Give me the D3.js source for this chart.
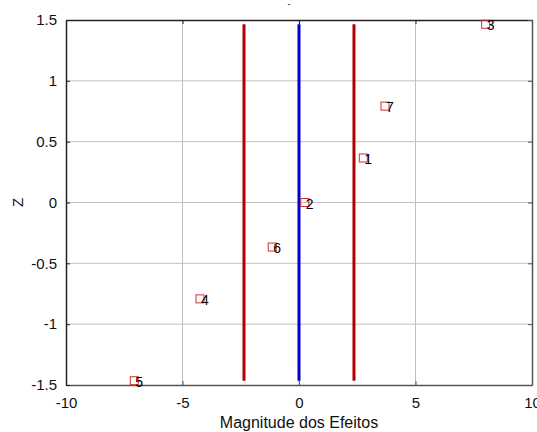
<!DOCTYPE html>
<html>
<head>
<meta charset="utf-8">
<script src="https://cdn.jsdelivr.net/npm/d3@7/dist/d3.min.js"></script>
<style>
  html, body { margin: 0; padding: 0; background: #fff; }
  svg { display: block; font-family: "Liberation Sans", Arial, sans-serif; }
</style>
</head>
<body>
<svg id="chart" width="537" height="432"></svg>
<script>
// Effect estimates and their normal scores (Z)
const effectLabels = ["1", "2", "3", "4", "5", "6", "7"];
const effectValues = [2.76, 0.25, 8.01, -4.25, -7.07, -1.15, 3.69];
const zScores = [0.366, 0, 1.465, -0.792, -1.465, -0.366, 0.792];

// Reference lines: centre (blue) and significance limits (red)
const centreLine = 0;
const limitLines = [-2.36, 2.36];
const lineSpan = [-1.465, 1.465];

const xTicks = [-10, -5, 0, 5, 10];
const yTicks = [-1.5, -1, -0.5, 0, 0.5, 1, 1.5];

const svg = d3.select("#chart");
const plotL = 66, plotR = 532, plotT = 20, plotB = 385;

const x = d3.scaleLinear().domain([-10, 10]).range([plotL, plotR]);
const y = d3.scaleLinear().domain([-1.5, 1.5]).range([plotB, plotT]);

// grid
const grid = svg.append("g").attr("stroke", "#c0c0c0").attr("stroke-width", 1);
grid.selectAll(".gx").data(xTicks.slice(1, -1)).join("line")
  .attr("x1", d => x(d)).attr("x2", d => x(d)).attr("y1", plotT).attr("y2", plotB);
grid.selectAll(".gy").data(yTicks.slice(1, -1)).join("line")
  .attr("y1", d => y(d)).attr("y2", d => y(d)).attr("x1", plotL).attr("x2", plotR);

// axes
const fmt = d => String(d);
const xAxis = d3.axisBottom(x).tickValues(xTicks).tickFormat(fmt).tickSizeInner(-4).tickSizeOuter(0).tickPadding(12);
const yAxis = d3.axisLeft(y).tickValues(yTicks).tickFormat(fmt).tickSizeInner(-4).tickSizeOuter(0).tickPadding(9);
const xTop = d3.axisTop(x).tickValues(xTicks).tickFormat("").tickSizeInner(-4).tickSizeOuter(0);
const yRight = d3.axisRight(y).tickValues(yTicks).tickFormat("").tickSizeInner(-4).tickSizeOuter(0);

function style(g, color) {
  g.select(".domain").attr("stroke", color).attr("stroke-width", 1.5);
  g.selectAll(".tick line").attr("stroke", color);
  g.selectAll(".tick text").attr("fill", "#111").style("font-size", "15px")
    .style("font-family", "'Liberation Sans', Arial, sans-serif");
}
svg.append("g").attr("transform", `translate(0,${plotB})`).call(xAxis).call(g => style(g, "#555"));
svg.append("g").attr("transform", `translate(${plotL},0)`).call(yAxis).call(g => style(g, "#222"));
svg.append("g").attr("transform", `translate(0,${plotT})`).call(xTop).call(g => style(g, "#222"));
svg.append("g").attr("transform", `translate(${plotR},0)`).call(yRight).call(g => style(g, "#555"));

// reference lines
svg.selectAll(".limit").data(limitLines).join("line")
  .attr("x1", d => x(d)).attr("x2", d => x(d))
  .attr("y1", y(lineSpan[1])).attr("y2", y(lineSpan[0]))
  .attr("stroke", "#b00000").attr("stroke-width", 3);
svg.append("line")
  .attr("x1", x(centreLine)).attr("x2", x(centreLine))
  .attr("y1", y(lineSpan[1])).attr("y2", y(lineSpan[0]))
  .attr("stroke", "#0000c8").attr("stroke-width", 3);

// effect markers
const pts = effectLabels.map((l, i) => ({ label: l, v: effectValues[i], z: zScores[i] }));
const s = 8;
svg.selectAll(".pt").data(pts).join("rect")
  .attr("x", d => x(d.v) - s / 2).attr("y", d => y(d.z) - s / 2)
  .attr("width", s).attr("height", s)
  .attr("fill", "none").attr("stroke", "#d03030").attr("stroke-width", 1);
svg.selectAll(".lbl").data(pts).join("text")
  .attr("x", d => x(d.v) + 1).attr("y", d => y(d.z) + 6)
  .attr("font-size", "14px").attr("fill", "#000")
  .text(d => d.label);

// titles
svg.append("text").attr("x", x(0)).attr("y", 428).attr("text-anchor", "middle")
  .attr("font-size", "16px").attr("fill", "#111").text("Magnitude dos Efeitos");
svg.append("text").attr("transform", `translate(23,${y(0)}) rotate(-90)`)
  .attr("text-anchor", "middle").attr("font-size", "15px").attr("fill", "#111").text("Z");
svg.append("text").attr("x", 289).attr("y", 7).attr("text-anchor", "middle")
  .attr("font-size", "9px").attr("fill", "#111").text("-");
</script>
</body>
</html>
